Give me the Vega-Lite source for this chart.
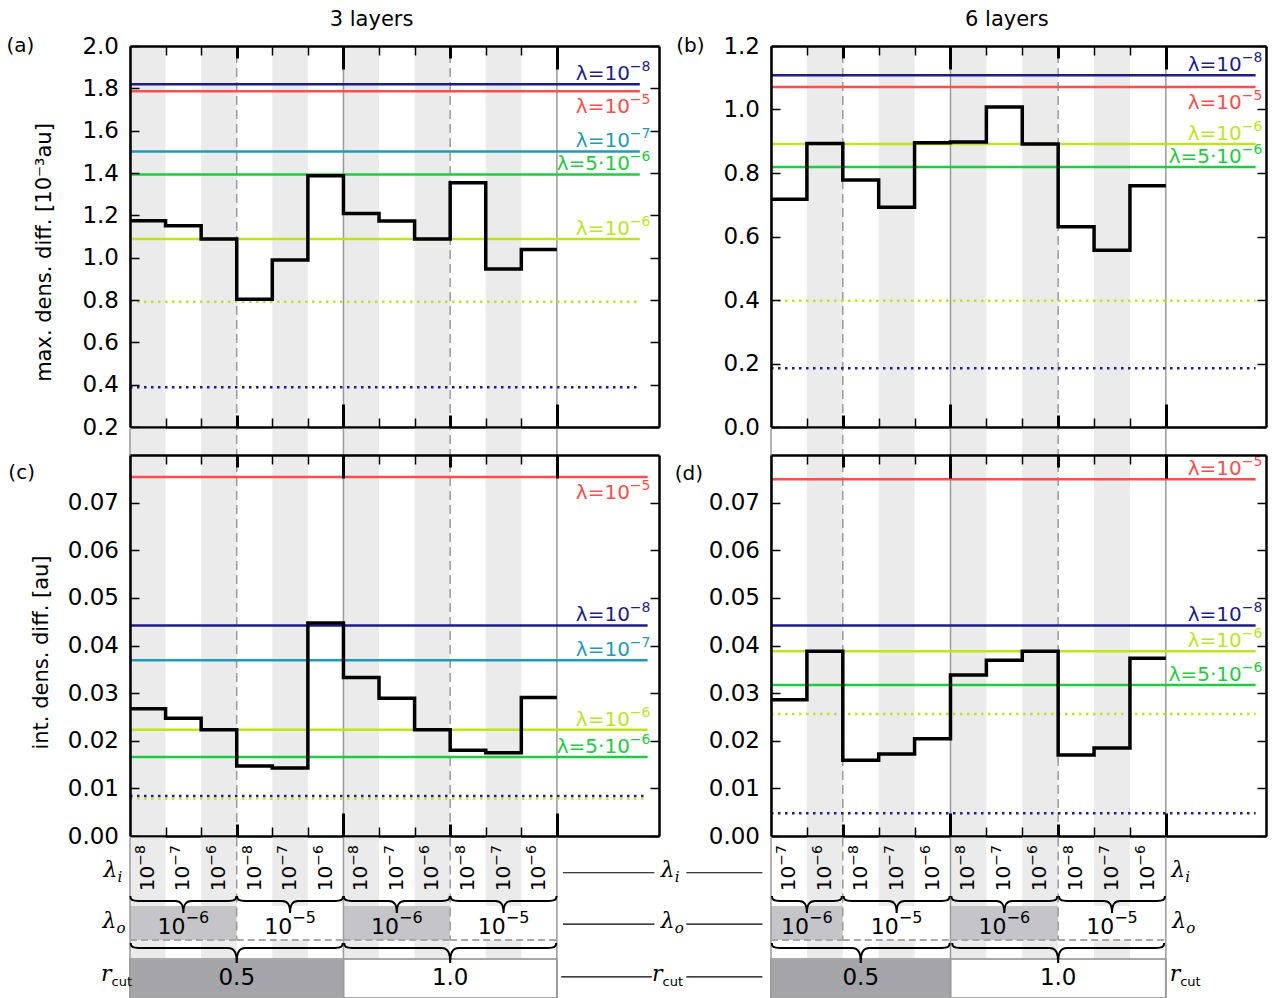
{
"$schema": "https://vega.github.io/schema/vega-lite/v6.json",
"background": "white",
"padding": {"left": 6, "top": 8, "right": 4, "bottom": 1},
"columns": 2,
"bounds": "flush",
"spacing": {"row": 28, "column": 112},
"config": {
  "view": {"stroke": null},
  "font": "DejaVu Sans",
  "axis": {"labelFont": "DejaVu Sans", "labelFontSize": 23, "labelColor": "black", "labelPadding": 20.5, "labelFlush": false, "labelOverlap": false,
           "domainColor": "black", "domainWidth": 2.5, "tickColor": "black", "tickWidth": 1.5, "tickSize": -9, "grid": false,
           "titleFont": "DejaVu Sans", "titleFontSize": 21, "titleFontWeight": "normal", "titleColor": "black"}
},
"datasets": {
  "bins": [
    {"L":"3","i":0,"x0":0,"x1":1,"xc":0.5,"li":"−8","maxd":1.175,"intd":0.0267},
    {"L":"3","i":1,"x0":1,"x1":2,"xc":1.5,"li":"−7","maxd":1.151,"intd":0.0247},
    {"L":"3","i":2,"x0":2,"x1":3,"xc":2.5,"li":"−6","maxd":1.088,"intd":0.0223},
    {"L":"3","i":3,"x0":3,"x1":4,"xc":3.5,"li":"−8","maxd":0.803,"intd":0.0147},
    {"L":"3","i":4,"x0":4,"x1":5,"xc":4.5,"li":"−7","maxd":0.989,"intd":0.0143},
    {"L":"3","i":5,"x0":5,"x1":6,"xc":5.5,"li":"−6","maxd":1.387,"intd":0.0447},
    {"L":"3","i":6,"x0":6,"x1":7,"xc":6.5,"li":"−8","maxd":1.209,"intd":0.0333},
    {"L":"3","i":7,"x0":7,"x1":8,"xc":7.5,"li":"−7","maxd":1.173,"intd":0.0289},
    {"L":"3","i":8,"x0":8,"x1":9,"xc":8.5,"li":"−6","maxd":1.088,"intd":0.0223},
    {"L":"3","i":9,"x0":9,"x1":10,"xc":9.5,"li":"−8","maxd":1.354,"intd":0.0180},
    {"L":"3","i":10,"x0":10,"x1":11,"xc":10.5,"li":"−7","maxd":0.946,"intd":0.0175},
    {"L":"3","i":11,"x0":11,"x1":12,"xc":11.5,"li":"−6","maxd":1.039,"intd":0.0291},
    {"L":"6","i":1,"x0":1,"x1":2,"xc":1.5,"li":"−7","maxd":0.717,"intd":0.0286},
    {"L":"6","i":2,"x0":2,"x1":3,"xc":2.5,"li":"−6","maxd":0.893,"intd":0.0388},
    {"L":"6","i":3,"x0":3,"x1":4,"xc":3.5,"li":"−8","maxd":0.778,"intd":0.0159},
    {"L":"6","i":4,"x0":4,"x1":5,"xc":4.5,"li":"−7","maxd":0.692,"intd":0.0172},
    {"L":"6","i":5,"x0":5,"x1":6,"xc":5.5,"li":"−6","maxd":0.895,"intd":0.0204},
    {"L":"6","i":6,"x0":6,"x1":7,"xc":6.5,"li":"−8","maxd":0.898,"intd":0.0338},
    {"L":"6","i":7,"x0":7,"x1":8,"xc":7.5,"li":"−7","maxd":1.008,"intd":0.0369},
    {"L":"6","i":8,"x0":8,"x1":9,"xc":8.5,"li":"−6","maxd":0.891,"intd":0.0388},
    {"L":"6","i":9,"x0":9,"x1":10,"xc":9.5,"li":"−8","maxd":0.631,"intd":0.0170},
    {"L":"6","i":10,"x0":10,"x1":11,"xc":10.5,"li":"−7","maxd":0.557,"intd":0.0185},
    {"L":"6","i":11,"x0":11,"x1":12,"xc":11.5,"li":"−6","maxd":0.760,"intd":0.0373}
  ],
  "hl": [
    {"L":"3","m":"max","lam":"1e-8","kind":"solid","v":1.819,"base":"λ=10","sup":"−8","side":"above"},
    {"L":"3","m":"max","lam":"1e-5","kind":"solid","v":1.786,"base":"λ=10","sup":"−5","side":"below"},
    {"L":"3","m":"max","lam":"1e-7","kind":"solid","v":1.502,"base":"λ=10","sup":"−7","side":"above"},
    {"L":"3","m":"max","lam":"5e-6","kind":"solid","v":1.393,"base":"λ=5·10","sup":"−6","side":"above"},
    {"L":"3","m":"max","lam":"1e-6","kind":"solid","v":1.088,"base":"λ=10","sup":"−6","side":"above"},
    {"L":"3","m":"max","lam":"1e-6","kind":"dotted","v":0.792,"base":"","sup":"","side":""},
    {"L":"3","m":"max","lam":"1e-8","kind":"dotted","v":0.388,"base":"","sup":"","side":""},
    {"L":"6","m":"max","lam":"1e-8","kind":"solid","v":1.108,"base":"λ=10","sup":"−8","side":"above"},
    {"L":"6","m":"max","lam":"1e-5","kind":"solid","v":1.071,"base":"λ=10","sup":"−5","side":"below"},
    {"L":"6","m":"max","lam":"1e-6","kind":"solid","v":0.891,"base":"λ=10","sup":"−6","side":"above"},
    {"L":"6","m":"max","lam":"5e-6","kind":"solid","v":0.819,"base":"λ=5·10","sup":"−6","side":"above"},
    {"L":"6","m":"max","lam":"1e-6","kind":"dotted","v":0.398,"base":"","sup":"","side":""},
    {"L":"6","m":"max","lam":"1e-8","kind":"dotted","v":0.185,"base":"","sup":"","side":""},
    {"L":"3","m":"int","lam":"1e-5","kind":"solid","v":0.0754,"base":"λ=10","sup":"−5","side":"below"},
    {"L":"3","m":"int","lam":"1e-8","kind":"solid","v":0.0442,"base":"λ=10","sup":"−8","side":"above"},
    {"L":"3","m":"int","lam":"1e-7","kind":"solid","v":0.0369,"base":"λ=10","sup":"−7","side":"above"},
    {"L":"3","m":"int","lam":"1e-6","kind":"solid","v":0.0223,"base":"λ=10","sup":"−6","side":"above"},
    {"L":"3","m":"int","lam":"5e-6","kind":"solid","v":0.0166,"base":"λ=5·10","sup":"−6","side":"above"},
    {"L":"3","m":"int","lam":"1e-8","kind":"dotted","v":0.0084,"base":"","sup":"","side":""},
    {"L":"3","m":"int","lam":"1e-6","kind":"dotted","v":0.0079,"base":"","sup":"","side":""},
    {"L":"6","m":"int","lam":"1e-5","kind":"solid","v":0.0749,"base":"λ=10","sup":"−5","side":"above"},
    {"L":"6","m":"int","lam":"1e-8","kind":"solid","v":0.0442,"base":"λ=10","sup":"−8","side":"above"},
    {"L":"6","m":"int","lam":"1e-6","kind":"solid","v":0.0388,"base":"λ=10","sup":"−6","side":"above"},
    {"L":"6","m":"int","lam":"5e-6","kind":"solid","v":0.0317,"base":"λ=5·10","sup":"−6","side":"above"},
    {"L":"6","m":"int","lam":"1e-6","kind":"dotted","v":0.0256,"base":"","sup":"","side":""},
    {"L":"6","m":"int","lam":"1e-8","kind":"dotted","v":0.0048,"base":"","sup":"","side":""}
  ],
  "seps": [
    {"L":"3","x":0,"st":"solid"},{"L":"3","x":3,"st":"dashed"},{"L":"3","x":6,"st":"solid"},{"L":"3","x":9,"st":"dashed"},{"L":"3","x":12,"st":"solid"},
    {"L":"6","x":1,"st":"solid"},{"L":"6","x":3,"st":"dashed"},{"L":"6","x":6,"st":"solid"},{"L":"6","x":9,"st":"dashed"},{"L":"6","x":12,"st":"solid"}
  ],
  "lo": [
    {"L":"3","x0":0,"x1":3,"xc":1.5,"lab":"1e-6","sup":"−6","span":"3"},
    {"L":"3","x0":3,"x1":6,"xc":4.5,"lab":"1e-5","sup":"−5","span":"3"},
    {"L":"3","x0":6,"x1":9,"xc":7.5,"lab":"1e-6","sup":"−6","span":"3"},
    {"L":"3","x0":9,"x1":12,"xc":10.5,"lab":"1e-5","sup":"−5","span":"3"},
    {"L":"6","x0":1,"x1":3,"xc":2,"lab":"1e-6","sup":"−6","span":"2"},
    {"L":"6","x0":3,"x1":6,"xc":4.5,"lab":"1e-5","sup":"−5","span":"3"},
    {"L":"6","x0":6,"x1":9,"xc":7.5,"lab":"1e-6","sup":"−6","span":"3"},
    {"L":"6","x0":9,"x1":12,"xc":10.5,"lab":"1e-5","sup":"−5","span":"3"}
  ],
  "rc": [
    {"L":"3","x0":0,"x1":6,"xc":3,"lab":"0.5","span":"6"},
    {"L":"3","x0":6,"x1":12,"xc":9,"lab":"1.0","span":"6"},
    {"L":"6","x0":1,"x1":6,"xc":3.5,"lab":"0.5","span":"5"},
    {"L":"6","x0":6,"x1":12,"xc":9,"lab":"1.0","span":"6"}
  ],
  "rl": [
    {"L":"3","x":-0.35,"y":0.227,"m":"λ","s":"i"},
    {"L":"3","x":-0.38,"y":0.544,"m":"λ","s":"o"},
    {"L":"3","x":-0.52,"y":0.869,"m":"r","s":"cut"},
    {"L":"3","x":15.31,"y":0.227,"m":"λ","s":"i"},
    {"L":"3","x":15.31,"y":0.544,"m":"λ","s":"o"},
    {"L":"3","x":14.97,"y":0.869,"m":"r","s":"cut"},
    {"L":"6","x":12.54,"y":0.227,"m":"λ","s":"i"},
    {"L":"6","x":12.57,"y":0.544,"m":"λ","s":"o"},
    {"L":"6","x":12.40,"y":0.869,"m":"r","s":"cut"}
  ],
  "cl": [
    {"L":"3","y":0.227,"x0":12.17,"x1":14.74},
    {"L":"3","y":0.544,"x0":12.17,"x1":14.74},
    {"L":"3","y":0.869,"x0":12.12,"x1":14.67},
    {"L":"6","y":0.227,"x0":-1.36,"x1":0.76},
    {"L":"6","y":0.544,"x0":-1.36,"x1":0.76},
    {"L":"6","y":0.869,"x0":-1.36,"x1":0.76}
  ]
},
"concat": [
 {
  "width": 529, "height": 381,
  "resolve": {"axis": {"x": "independent", "y": "independent"}},
  "layer": [
   {"data": {"name": "bins"}, "transform": [{"filter": "datum.L == '3' && datum.i % 2 == 0"}],
    "mark": {"type": "rect", "color": "#ebebeb"},
    "encoding": {"x": {"field": "x0", "type": "quantitative", "scale": {"domain": [0, 14.87], "nice": false, "zero": false}, "axis": null}, "x2": {"field": "x1"},
                 "y": {"datum": 0.2, "type": "quantitative", "scale": {"domain": [0.2, 2.0], "nice": false, "zero": false}, "axis": null}, "y2": {"datum": 2.0}}},
   {"data": {"name": "seps"}, "transform": [{"filter": "datum.L == '3' && datum.st == 'solid'"}],
    "mark": {"type": "rule", "color": "#9a9a9a", "strokeWidth": 1.5},
    "encoding": {"x": {"field": "x", "type": "quantitative", "scale": {"domain": [0, 14.87], "nice": false, "zero": false}, "axis": null},
                 "y": {"datum": 0.2, "type": "quantitative", "scale": {"domain": [0.2, 2.0], "nice": false, "zero": false}, "axis": null}, "y2": {"datum": 2.0}}},
   {"data": {"name": "seps"}, "transform": [{"filter": "datum.L == '3' && datum.st == 'dashed'"}],
    "mark": {"type": "rule", "color": "#9a9a9a", "strokeWidth": 1.5, "strokeDash": [9, 5]},
    "encoding": {"x": {"field": "x", "type": "quantitative", "scale": {"domain": [0, 14.87], "nice": false, "zero": false}, "axis": null},
                 "y": {"datum": 0.2, "type": "quantitative", "scale": {"domain": [0.2, 2.0], "nice": false, "zero": false}, "axis": null}, "y2": {"datum": 2.0}}},
   {"data": {"name": "hl"}, "transform": [{"filter": "datum.L == '3' && datum.m == 'max' && datum.kind == 'solid'"}],
    "mark": {"type": "rule", "strokeWidth": 2.5},
    "encoding": {"x": {"datum": 0, "type": "quantitative", "scale": {"domain": [0, 14.87], "nice": false, "zero": false},
                       "axis": {"orient": "top", "zindex": 2, "values": [1,2,3,4,5,6,7,8,9,10,11,12], "labels": false, "title": null,
                                "tickSize": {"condition": [{"test": "datum.value == 6 || datum.value == 12", "value": -23}, {"test": "datum.value == 3 || datum.value == 9", "value": -12}], "value": -9},
                                "tickWidth": {"condition": {"test": "datum.value == 3 || datum.value == 6 || datum.value == 9 || datum.value == 12", "value": 3}, "value": 1.5}}},
                 "x2": {"datum": 14.33},
                 "y": {"field": "v", "type": "quantitative", "scale": {"domain": [0.2, 2.0], "nice": false, "zero": false},
                       "axis": {"orient": "right", "zindex": 2, "values": [0.2,0.4,0.6,0.8,1.0,1.2,1.4,1.6,1.8,2.0], "labels": false, "title": null}},
                 "color": {"field": "lam", "type": "nominal", "scale": {"domain": ["1e-8","1e-7","1e-6","5e-6","1e-5"], "range": ["#1c1c8c","#1e9bb8","#bee41c","#1fcc40","#ff4c4c"]}, "legend": null}}},
   {"data": {"name": "hl"}, "transform": [{"filter": "datum.L == '3' && datum.m == 'max' && datum.kind == 'dotted'"}],
    "mark": {"type": "rule", "strokeWidth": 2.5, "strokeDash": [2.5, 4.5]},
    "encoding": {"x": {"datum": 0, "type": "quantitative", "scale": {"domain": [0, 14.87], "nice": false, "zero": false}, "axis": null}, "x2": {"datum": 14.25},
                 "y": {"field": "v", "type": "quantitative", "scale": {"domain": [0.2, 2.0], "nice": false, "zero": false}, "axis": null},
                 "color": {"field": "lam", "type": "nominal", "scale": {"domain": ["1e-8","1e-7","1e-6","5e-6","1e-5"], "range": ["#1c1c8c","#1e9bb8","#bee41c","#1fcc40","#ff4c4c"]}, "legend": null}}},
   {"data": {"name": "hl"}, "transform": [{"filter": "datum.L == '3' && datum.m == 'max' && datum.side == 'above'"}],
    "mark": {"type": "text", "align": "right", "baseline": "alphabetic", "dx": -20.6, "dy": -4, "fontSize": 20},
    "encoding": {"x": {"datum": 14.63, "type": "quantitative", "scale": {"domain": [0, 14.87], "nice": false, "zero": false}, "axis": null},
                 "y": {"field": "v", "type": "quantitative", "scale": {"domain": [0.2, 2.0], "nice": false, "zero": false}, "axis": null},
                 "text": {"field": "base"},
                 "color": {"field": "lam", "type": "nominal", "scale": {"domain": ["1e-8","1e-7","1e-6","5e-6","1e-5"], "range": ["#1c1c8c","#1e9bb8","#bee41c","#1fcc40","#ff4c4c"]}, "legend": null}}},
   {"data": {"name": "hl"}, "transform": [{"filter": "datum.L == '3' && datum.m == 'max' && datum.side == 'above'"}],
    "mark": {"type": "text", "align": "right", "baseline": "alphabetic", "dy": -13, "fontSize": 14},
    "encoding": {"x": {"datum": 14.63, "type": "quantitative", "scale": {"domain": [0, 14.87], "nice": false, "zero": false}, "axis": null},
                 "y": {"field": "v", "type": "quantitative", "scale": {"domain": [0.2, 2.0], "nice": false, "zero": false}, "axis": null},
                 "text": {"field": "sup"},
                 "color": {"field": "lam", "type": "nominal", "scale": {"domain": ["1e-8","1e-7","1e-6","5e-6","1e-5"], "range": ["#1c1c8c","#1e9bb8","#bee41c","#1fcc40","#ff4c4c"]}, "legend": null}}},
   {"data": {"name": "hl"}, "transform": [{"filter": "datum.L == '3' && datum.m == 'max' && datum.side == 'below'"}],
    "mark": {"type": "text", "align": "right", "baseline": "alphabetic", "dx": -20.6, "dy": 22, "fontSize": 20},
    "encoding": {"x": {"datum": 14.63, "type": "quantitative", "scale": {"domain": [0, 14.87], "nice": false, "zero": false}, "axis": null},
                 "y": {"field": "v", "type": "quantitative", "scale": {"domain": [0.2, 2.0], "nice": false, "zero": false}, "axis": null},
                 "text": {"field": "base"},
                 "color": {"field": "lam", "type": "nominal", "scale": {"domain": ["1e-8","1e-7","1e-6","5e-6","1e-5"], "range": ["#1c1c8c","#1e9bb8","#bee41c","#1fcc40","#ff4c4c"]}, "legend": null}}},
   {"data": {"name": "hl"}, "transform": [{"filter": "datum.L == '3' && datum.m == 'max' && datum.side == 'below'"}],
    "mark": {"type": "text", "align": "right", "baseline": "alphabetic", "dy": 13, "fontSize": 14},
    "encoding": {"x": {"datum": 14.63, "type": "quantitative", "scale": {"domain": [0, 14.87], "nice": false, "zero": false}, "axis": null},
                 "y": {"field": "v", "type": "quantitative", "scale": {"domain": [0.2, 2.0], "nice": false, "zero": false}, "axis": null},
                 "text": {"field": "sup"},
                 "color": {"field": "lam", "type": "nominal", "scale": {"domain": ["1e-8","1e-7","1e-6","5e-6","1e-5"], "range": ["#1c1c8c","#1e9bb8","#bee41c","#1fcc40","#ff4c4c"]}, "legend": null}}},
   {"data": {"name": "bins"}, "transform": [{"filter": "datum.L == '3'"}, {"fold": ["x0", "x1"], "as": ["k", "xx"]}],
    "mark": {"type": "line", "color": "black", "strokeWidth": 3.5},
    "encoding": {"x": {"field": "xx", "type": "quantitative", "scale": {"domain": [0, 14.87], "nice": false, "zero": false},
                       "axis": {"orient": "bottom", "zindex": 2, "values": [1,2,3,4,5,6,7,8,9,10,11,12], "labels": false, "title": null,
                                "tickSize": {"condition": [{"test": "datum.value == 6 || datum.value == 12", "value": -23}, {"test": "datum.value == 3 || datum.value == 9", "value": -12}], "value": -9},
                                "tickWidth": {"condition": {"test": "datum.value == 3 || datum.value == 6 || datum.value == 9 || datum.value == 12", "value": 3}, "value": 1.5}}},
                 "y": {"field": "maxd", "type": "quantitative", "scale": {"domain": [0.2, 2.0], "nice": false, "zero": false},
                       "axis": {"orient": "left", "zindex": 2, "values": [0.2,0.4,0.6,0.8,1.0,1.2,1.4,1.6,1.8,2.0], "format": ".1f", "title": "max. dens. diff. [10⁻³au]", "titlePadding": 27, "titleY": 206}},
                 "order": [{"field": "i", "type": "quantitative"}, {"field": "xx", "type": "quantitative"}]}},
   {"data": {"values": [{"t": "(a)"}]},
    "mark": {"type": "text", "align": "left", "baseline": "middle", "fontSize": 20, "clip": false},
    "encoding": {"x": {"datum": -3.47, "type": "quantitative", "scale": {"domain": [0, 14.87], "nice": false, "zero": false}, "axis": null},
                 "y": {"datum": 2.0, "type": "quantitative", "scale": {"domain": [0.2, 2.0], "nice": false, "zero": false}, "axis": null},
                 "text": {"field": "t"}}},
   {"data": {"values": [{"t": "3 layers"}]},
    "mark": {"type": "text", "align": "center", "baseline": "alphabetic", "fontSize": 21, "clip": false},
    "encoding": {"x": {"datum": 6.79, "type": "quantitative", "scale": {"domain": [0, 14.87], "nice": false, "zero": false}, "axis": null},
                 "y": {"datum": 2.0945, "type": "quantitative", "scale": {"domain": [0.2, 2.0], "nice": false, "zero": false}, "axis": null},
                 "text": {"field": "t"}}}
  ]
 },
 {
  "width": 495, "height": 381,
  "resolve": {"axis": {"x": "independent", "y": "independent"}},
  "layer": [
   {"data": {"name": "bins"}, "transform": [{"filter": "datum.L == '6' && datum.i % 2 == 0"}],
    "mark": {"type": "rect", "color": "#ebebeb"},
    "encoding": {"x": {"field": "x0", "type": "quantitative", "scale": {"domain": [1, 14.79], "nice": false, "zero": false}, "axis": null}, "x2": {"field": "x1"},
                 "y": {"datum": 0, "type": "quantitative", "scale": {"domain": [0, 1.2], "nice": false, "zero": false}, "axis": null}, "y2": {"datum": 1.2}}},
   {"data": {"name": "seps"}, "transform": [{"filter": "datum.L == '6' && datum.st == 'solid'"}],
    "mark": {"type": "rule", "color": "#9a9a9a", "strokeWidth": 1.5},
    "encoding": {"x": {"field": "x", "type": "quantitative", "scale": {"domain": [1, 14.79], "nice": false, "zero": false}, "axis": null},
                 "y": {"datum": 0, "type": "quantitative", "scale": {"domain": [0, 1.2], "nice": false, "zero": false}, "axis": null}, "y2": {"datum": 1.2}}},
   {"data": {"name": "seps"}, "transform": [{"filter": "datum.L == '6' && datum.st == 'dashed'"}],
    "mark": {"type": "rule", "color": "#9a9a9a", "strokeWidth": 1.5, "strokeDash": [9, 5]},
    "encoding": {"x": {"field": "x", "type": "quantitative", "scale": {"domain": [1, 14.79], "nice": false, "zero": false}, "axis": null},
                 "y": {"datum": 0, "type": "quantitative", "scale": {"domain": [0, 1.2], "nice": false, "zero": false}, "axis": null}, "y2": {"datum": 1.2}}},
   {"data": {"name": "hl"}, "transform": [{"filter": "datum.L == '6' && datum.m == 'max' && datum.kind == 'solid'"}],
    "mark": {"type": "rule", "strokeWidth": 2.5},
    "encoding": {"x": {"datum": 1, "type": "quantitative", "scale": {"domain": [1, 14.79], "nice": false, "zero": false},
                       "axis": {"orient": "top", "zindex": 2, "values": [2,3,4,5,6,7,8,9,10,11,12], "labels": false, "title": null,
                                "tickSize": {"condition": [{"test": "datum.value == 6 || datum.value == 12", "value": -23}, {"test": "datum.value == 3 || datum.value == 9", "value": -12}], "value": -9},
                                "tickWidth": {"condition": {"test": "datum.value == 3 || datum.value == 6 || datum.value == 9 || datum.value == 12", "value": 3}, "value": 1.5}}},
                 "x2": {"datum": 14.5},
                 "y": {"field": "v", "type": "quantitative", "scale": {"domain": [0, 1.2], "nice": false, "zero": false},
                       "axis": {"orient": "right", "zindex": 2, "values": [0,0.2,0.4,0.6,0.8,1.0,1.2], "labels": false, "title": null}},
                 "color": {"field": "lam", "type": "nominal", "scale": {"domain": ["1e-8","1e-7","1e-6","5e-6","1e-5"], "range": ["#1c1c8c","#1e9bb8","#bee41c","#1fcc40","#ff4c4c"]}, "legend": null}}},
   {"data": {"name": "hl"}, "transform": [{"filter": "datum.L == '6' && datum.m == 'max' && datum.kind == 'dotted'"}],
    "mark": {"type": "rule", "strokeWidth": 2.5, "strokeDash": [2.5, 4.5]},
    "encoding": {"x": {"datum": 1, "type": "quantitative", "scale": {"domain": [1, 14.79], "nice": false, "zero": false}, "axis": null}, "x2": {"datum": 14.5},
                 "y": {"field": "v", "type": "quantitative", "scale": {"domain": [0, 1.2], "nice": false, "zero": false}, "axis": null},
                 "color": {"field": "lam", "type": "nominal", "scale": {"domain": ["1e-8","1e-7","1e-6","5e-6","1e-5"], "range": ["#1c1c8c","#1e9bb8","#bee41c","#1fcc40","#ff4c4c"]}, "legend": null}}},
   {"data": {"name": "hl"}, "transform": [{"filter": "datum.L == '6' && datum.m == 'max' && datum.side == 'above'"}],
    "mark": {"type": "text", "align": "right", "baseline": "alphabetic", "dx": -20.6, "dy": -4, "fontSize": 20},
    "encoding": {"x": {"datum": 14.69, "type": "quantitative", "scale": {"domain": [1, 14.79], "nice": false, "zero": false}, "axis": null},
                 "y": {"field": "v", "type": "quantitative", "scale": {"domain": [0, 1.2], "nice": false, "zero": false}, "axis": null},
                 "text": {"field": "base"},
                 "color": {"field": "lam", "type": "nominal", "scale": {"domain": ["1e-8","1e-7","1e-6","5e-6","1e-5"], "range": ["#1c1c8c","#1e9bb8","#bee41c","#1fcc40","#ff4c4c"]}, "legend": null}}},
   {"data": {"name": "hl"}, "transform": [{"filter": "datum.L == '6' && datum.m == 'max' && datum.side == 'above'"}],
    "mark": {"type": "text", "align": "right", "baseline": "alphabetic", "dy": -13, "fontSize": 14},
    "encoding": {"x": {"datum": 14.69, "type": "quantitative", "scale": {"domain": [1, 14.79], "nice": false, "zero": false}, "axis": null},
                 "y": {"field": "v", "type": "quantitative", "scale": {"domain": [0, 1.2], "nice": false, "zero": false}, "axis": null},
                 "text": {"field": "sup"},
                 "color": {"field": "lam", "type": "nominal", "scale": {"domain": ["1e-8","1e-7","1e-6","5e-6","1e-5"], "range": ["#1c1c8c","#1e9bb8","#bee41c","#1fcc40","#ff4c4c"]}, "legend": null}}},
   {"data": {"name": "hl"}, "transform": [{"filter": "datum.L == '6' && datum.m == 'max' && datum.side == 'below'"}],
    "mark": {"type": "text", "align": "right", "baseline": "alphabetic", "dx": -20.6, "dy": 22, "fontSize": 20},
    "encoding": {"x": {"datum": 14.69, "type": "quantitative", "scale": {"domain": [1, 14.79], "nice": false, "zero": false}, "axis": null},
                 "y": {"field": "v", "type": "quantitative", "scale": {"domain": [0, 1.2], "nice": false, "zero": false}, "axis": null},
                 "text": {"field": "base"},
                 "color": {"field": "lam", "type": "nominal", "scale": {"domain": ["1e-8","1e-7","1e-6","5e-6","1e-5"], "range": ["#1c1c8c","#1e9bb8","#bee41c","#1fcc40","#ff4c4c"]}, "legend": null}}},
   {"data": {"name": "hl"}, "transform": [{"filter": "datum.L == '6' && datum.m == 'max' && datum.side == 'below'"}],
    "mark": {"type": "text", "align": "right", "baseline": "alphabetic", "dy": 13, "fontSize": 14},
    "encoding": {"x": {"datum": 14.69, "type": "quantitative", "scale": {"domain": [1, 14.79], "nice": false, "zero": false}, "axis": null},
                 "y": {"field": "v", "type": "quantitative", "scale": {"domain": [0, 1.2], "nice": false, "zero": false}, "axis": null},
                 "text": {"field": "sup"},
                 "color": {"field": "lam", "type": "nominal", "scale": {"domain": ["1e-8","1e-7","1e-6","5e-6","1e-5"], "range": ["#1c1c8c","#1e9bb8","#bee41c","#1fcc40","#ff4c4c"]}, "legend": null}}},
   {"data": {"name": "bins"}, "transform": [{"filter": "datum.L == '6'"}, {"fold": ["x0", "x1"], "as": ["k", "xx"]}],
    "mark": {"type": "line", "color": "black", "strokeWidth": 3.5},
    "encoding": {"x": {"field": "xx", "type": "quantitative", "scale": {"domain": [1, 14.79], "nice": false, "zero": false},
                       "axis": {"orient": "bottom", "zindex": 2, "values": [2,3,4,5,6,7,8,9,10,11,12], "labels": false, "title": null,
                                "tickSize": {"condition": [{"test": "datum.value == 6 || datum.value == 12", "value": -23}, {"test": "datum.value == 3 || datum.value == 9", "value": -12}], "value": -9},
                                "tickWidth": {"condition": {"test": "datum.value == 3 || datum.value == 6 || datum.value == 9 || datum.value == 12", "value": 3}, "value": 1.5}}},
                 "y": {"field": "maxd", "type": "quantitative", "scale": {"domain": [0, 1.2], "nice": false, "zero": false},
                       "axis": {"orient": "left", "zindex": 2, "values": [0,0.2,0.4,0.6,0.8,1.0,1.2], "format": ".1f", "title": null}},
                 "order": [{"field": "i", "type": "quantitative"}, {"field": "xx", "type": "quantitative"}]}},
   {"data": {"values": [{"t": "(b)"}]},
    "mark": {"type": "text", "align": "left", "baseline": "middle", "fontSize": 20, "clip": false},
    "encoding": {"x": {"datum": -1.64, "type": "quantitative", "scale": {"domain": [1, 14.79], "nice": false, "zero": false}, "axis": null},
                 "y": {"datum": 1.2, "type": "quantitative", "scale": {"domain": [0, 1.2], "nice": false, "zero": false}, "axis": null},
                 "text": {"field": "t"}}},
   {"data": {"values": [{"t": "6 layers"}]},
    "mark": {"type": "text", "align": "center", "baseline": "alphabetic", "fontSize": 21, "clip": false},
    "encoding": {"x": {"datum": 7.57, "type": "quantitative", "scale": {"domain": [1, 14.79], "nice": false, "zero": false}, "axis": null},
                 "y": {"datum": 1.263, "type": "quantitative", "scale": {"domain": [0, 1.2], "nice": false, "zero": false}, "axis": null},
                 "text": {"field": "t"}}}
  ]
 },
 {
  "width": 529, "height": 381,
  "resolve": {"axis": {"x": "independent", "y": "independent"}},
  "layer": [
   {"data": {"name": "bins"}, "transform": [{"filter": "datum.L == '3' && datum.i % 2 == 0"}],
    "mark": {"type": "rect", "color": "#ebebeb", "clip": false},
    "encoding": {"x": {"field": "x0", "type": "quantitative", "scale": {"domain": [0, 14.87], "nice": false, "zero": false}, "axis": null}, "x2": {"field": "x1"},
                 "y": {"datum": 0, "type": "quantitative", "scale": {"domain": [0, 0.08], "nice": false, "zero": false}, "axis": null}, "y2": {"datum": 0.08552}}},
   {"data": {"name": "seps"}, "transform": [{"filter": "datum.L == '3' && datum.st == 'solid'"}],
    "mark": {"type": "rule", "color": "#9a9a9a", "strokeWidth": 1.5, "clip": false},
    "encoding": {"x": {"field": "x", "type": "quantitative", "scale": {"domain": [0, 14.87], "nice": false, "zero": false}, "axis": null},
                 "y": {"datum": 0, "type": "quantitative", "scale": {"domain": [0, 0.08], "nice": false, "zero": false}, "axis": null}, "y2": {"datum": 0.08552}}},
   {"data": {"name": "seps"}, "transform": [{"filter": "datum.L == '3' && datum.st == 'dashed'"}],
    "mark": {"type": "rule", "color": "#9a9a9a", "strokeWidth": 1.5, "strokeDash": [9, 5], "clip": false},
    "encoding": {"x": {"field": "x", "type": "quantitative", "scale": {"domain": [0, 14.87], "nice": false, "zero": false}, "axis": null},
                 "y": {"datum": 0, "type": "quantitative", "scale": {"domain": [0, 0.08], "nice": false, "zero": false}, "axis": null}, "y2": {"datum": 0.08552}}},
   {"data": {"name": "hl"}, "transform": [{"filter": "datum.L == '3' && datum.m == 'int' && datum.kind == 'solid'"}],
    "mark": {"type": "rule", "strokeWidth": 2.5},
    "encoding": {"x": {"datum": 0, "type": "quantitative", "scale": {"domain": [0, 14.87], "nice": false, "zero": false},
                       "axis": {"orient": "top", "zindex": 2, "values": [1,2,3,4,5,6,7,8,9,10,11,12], "labels": false, "title": null,
                                "tickSize": {"condition": [{"test": "datum.value == 6 || datum.value == 12", "value": -23}, {"test": "datum.value == 3 || datum.value == 9", "value": -12}], "value": -9},
                                "tickWidth": {"condition": {"test": "datum.value == 3 || datum.value == 6 || datum.value == 9 || datum.value == 12", "value": 3}, "value": 1.5}}},
                 "x2": {"datum": 14.55},
                 "y": {"field": "v", "type": "quantitative", "scale": {"domain": [0, 0.08], "nice": false, "zero": false},
                       "axis": {"orient": "right", "zindex": 2, "values": [0,0.01,0.02,0.03,0.04,0.05,0.06,0.07], "labels": false, "title": null}},
                 "color": {"field": "lam", "type": "nominal", "scale": {"domain": ["1e-8","1e-7","1e-6","5e-6","1e-5"], "range": ["#1c1c8c","#1e9bb8","#bee41c","#1fcc40","#ff4c4c"]}, "legend": null}}},
   {"data": {"name": "hl"}, "transform": [{"filter": "datum.L == '3' && datum.m == 'int' && datum.kind == 'dotted'"}],
    "mark": {"type": "rule", "strokeWidth": 2.5, "strokeDash": [2.5, 4.5]},
    "encoding": {"x": {"datum": 0, "type": "quantitative", "scale": {"domain": [0, 14.87], "nice": false, "zero": false}, "axis": null}, "x2": {"datum": 14.55},
                 "y": {"field": "v", "type": "quantitative", "scale": {"domain": [0, 0.08], "nice": false, "zero": false}, "axis": null},
                 "color": {"field": "lam", "type": "nominal", "scale": {"domain": ["1e-8","1e-7","1e-6","5e-6","1e-5"], "range": ["#1c1c8c","#1e9bb8","#bee41c","#1fcc40","#ff4c4c"]}, "legend": null}}},
   {"data": {"name": "hl"}, "transform": [{"filter": "datum.L == '3' && datum.m == 'int' && datum.side == 'above'"}],
    "mark": {"type": "text", "align": "right", "baseline": "alphabetic", "dx": -20.6, "dy": -4, "fontSize": 20},
    "encoding": {"x": {"datum": 14.63, "type": "quantitative", "scale": {"domain": [0, 14.87], "nice": false, "zero": false}, "axis": null},
                 "y": {"field": "v", "type": "quantitative", "scale": {"domain": [0, 0.08], "nice": false, "zero": false}, "axis": null},
                 "text": {"field": "base"},
                 "color": {"field": "lam", "type": "nominal", "scale": {"domain": ["1e-8","1e-7","1e-6","5e-6","1e-5"], "range": ["#1c1c8c","#1e9bb8","#bee41c","#1fcc40","#ff4c4c"]}, "legend": null}}},
   {"data": {"name": "hl"}, "transform": [{"filter": "datum.L == '3' && datum.m == 'int' && datum.side == 'above'"}],
    "mark": {"type": "text", "align": "right", "baseline": "alphabetic", "dy": -13, "fontSize": 14},
    "encoding": {"x": {"datum": 14.63, "type": "quantitative", "scale": {"domain": [0, 14.87], "nice": false, "zero": false}, "axis": null},
                 "y": {"field": "v", "type": "quantitative", "scale": {"domain": [0, 0.08], "nice": false, "zero": false}, "axis": null},
                 "text": {"field": "sup"},
                 "color": {"field": "lam", "type": "nominal", "scale": {"domain": ["1e-8","1e-7","1e-6","5e-6","1e-5"], "range": ["#1c1c8c","#1e9bb8","#bee41c","#1fcc40","#ff4c4c"]}, "legend": null}}},
   {"data": {"name": "hl"}, "transform": [{"filter": "datum.L == '3' && datum.m == 'int' && datum.side == 'below'"}],
    "mark": {"type": "text", "align": "right", "baseline": "alphabetic", "dx": -20.6, "dy": 22, "fontSize": 20},
    "encoding": {"x": {"datum": 14.63, "type": "quantitative", "scale": {"domain": [0, 14.87], "nice": false, "zero": false}, "axis": null},
                 "y": {"field": "v", "type": "quantitative", "scale": {"domain": [0, 0.08], "nice": false, "zero": false}, "axis": null},
                 "text": {"field": "base"},
                 "color": {"field": "lam", "type": "nominal", "scale": {"domain": ["1e-8","1e-7","1e-6","5e-6","1e-5"], "range": ["#1c1c8c","#1e9bb8","#bee41c","#1fcc40","#ff4c4c"]}, "legend": null}}},
   {"data": {"name": "hl"}, "transform": [{"filter": "datum.L == '3' && datum.m == 'int' && datum.side == 'below'"}],
    "mark": {"type": "text", "align": "right", "baseline": "alphabetic", "dy": 13, "fontSize": 14},
    "encoding": {"x": {"datum": 14.63, "type": "quantitative", "scale": {"domain": [0, 14.87], "nice": false, "zero": false}, "axis": null},
                 "y": {"field": "v", "type": "quantitative", "scale": {"domain": [0, 0.08], "nice": false, "zero": false}, "axis": null},
                 "text": {"field": "sup"},
                 "color": {"field": "lam", "type": "nominal", "scale": {"domain": ["1e-8","1e-7","1e-6","5e-6","1e-5"], "range": ["#1c1c8c","#1e9bb8","#bee41c","#1fcc40","#ff4c4c"]}, "legend": null}}},
   {"data": {"name": "bins"}, "transform": [{"filter": "datum.L == '3'"}, {"fold": ["x0", "x1"], "as": ["k", "xx"]}],
    "mark": {"type": "line", "color": "black", "strokeWidth": 3.5},
    "encoding": {"x": {"field": "xx", "type": "quantitative", "scale": {"domain": [0, 14.87], "nice": false, "zero": false},
                       "axis": {"orient": "bottom", "zindex": 2, "values": [1,2,3,4,5,6,7,8,9,10,11,12], "labels": false, "title": null,
                                "tickSize": {"condition": [{"test": "datum.value == 6 || datum.value == 12", "value": -23}, {"test": "datum.value == 3 || datum.value == 9", "value": -12}], "value": -9},
                                "tickWidth": {"condition": {"test": "datum.value == 3 || datum.value == 6 || datum.value == 9 || datum.value == 12", "value": 3}, "value": 1.5}}},
                 "y": {"field": "intd", "type": "quantitative", "scale": {"domain": [0, 0.08], "nice": false, "zero": false},
                       "axis": {"orient": "left", "zindex": 2, "values": [0,0.01,0.02,0.03,0.04,0.05,0.06,0.07], "format": ".2f", "title": "int. dens. diff. [au]", "titlePadding": 16, "titleY": 197}},
                 "order": [{"field": "i", "type": "quantitative"}, {"field": "xx", "type": "quantitative"}]}},
   {"data": {"values": [{"t": "(c)"}]},
    "mark": {"type": "text", "align": "left", "baseline": "middle", "fontSize": 20, "clip": false},
    "encoding": {"x": {"datum": -3.42, "type": "quantitative", "scale": {"domain": [0, 14.87], "nice": false, "zero": false}, "axis": null},
                 "y": {"datum": 0.0763, "type": "quantitative", "scale": {"domain": [0, 0.08], "nice": false, "zero": false}, "axis": null},
                 "text": {"field": "t"}}}
  ]
 },
 {
  "width": 495, "height": 381,
  "resolve": {"axis": {"x": "independent", "y": "independent"}},
  "layer": [
   {"data": {"name": "bins"}, "transform": [{"filter": "datum.L == '6' && datum.i % 2 == 0"}],
    "mark": {"type": "rect", "color": "#ebebeb", "clip": false},
    "encoding": {"x": {"field": "x0", "type": "quantitative", "scale": {"domain": [1, 14.79], "nice": false, "zero": false}, "axis": null}, "x2": {"field": "x1"},
                 "y": {"datum": 0, "type": "quantitative", "scale": {"domain": [0, 0.08], "nice": false, "zero": false}, "axis": null}, "y2": {"datum": 0.08552}}},
   {"data": {"name": "seps"}, "transform": [{"filter": "datum.L == '6' && datum.st == 'solid'"}],
    "mark": {"type": "rule", "color": "#9a9a9a", "strokeWidth": 1.5, "clip": false},
    "encoding": {"x": {"field": "x", "type": "quantitative", "scale": {"domain": [1, 14.79], "nice": false, "zero": false}, "axis": null},
                 "y": {"datum": 0, "type": "quantitative", "scale": {"domain": [0, 0.08], "nice": false, "zero": false}, "axis": null}, "y2": {"datum": 0.08552}}},
   {"data": {"name": "seps"}, "transform": [{"filter": "datum.L == '6' && datum.st == 'dashed'"}],
    "mark": {"type": "rule", "color": "#9a9a9a", "strokeWidth": 1.5, "strokeDash": [9, 5], "clip": false},
    "encoding": {"x": {"field": "x", "type": "quantitative", "scale": {"domain": [1, 14.79], "nice": false, "zero": false}, "axis": null},
                 "y": {"datum": 0, "type": "quantitative", "scale": {"domain": [0, 0.08], "nice": false, "zero": false}, "axis": null}, "y2": {"datum": 0.08552}}},
   {"data": {"name": "hl"}, "transform": [{"filter": "datum.L == '6' && datum.m == 'int' && datum.kind == 'solid'"}],
    "mark": {"type": "rule", "strokeWidth": 2.5},
    "encoding": {"x": {"datum": 1, "type": "quantitative", "scale": {"domain": [1, 14.79], "nice": false, "zero": false},
                       "axis": {"orient": "top", "zindex": 2, "values": [2,3,4,5,6,7,8,9,10,11,12], "labels": false, "title": null,
                                "tickSize": {"condition": [{"test": "datum.value == 6 || datum.value == 12", "value": -23}, {"test": "datum.value == 3 || datum.value == 9", "value": -12}], "value": -9},
                                "tickWidth": {"condition": {"test": "datum.value == 3 || datum.value == 6 || datum.value == 9 || datum.value == 12", "value": 3}, "value": 1.5}}},
                 "x2": {"datum": 14.5},
                 "y": {"field": "v", "type": "quantitative", "scale": {"domain": [0, 0.08], "nice": false, "zero": false},
                       "axis": {"orient": "right", "zindex": 2, "values": [0,0.01,0.02,0.03,0.04,0.05,0.06,0.07], "labels": false, "title": null}},
                 "color": {"field": "lam", "type": "nominal", "scale": {"domain": ["1e-8","1e-7","1e-6","5e-6","1e-5"], "range": ["#1c1c8c","#1e9bb8","#bee41c","#1fcc40","#ff4c4c"]}, "legend": null}}},
   {"data": {"name": "hl"}, "transform": [{"filter": "datum.L == '6' && datum.m == 'int' && datum.kind == 'dotted'"}],
    "mark": {"type": "rule", "strokeWidth": 2.5, "strokeDash": [2.5, 4.5]},
    "encoding": {"x": {"datum": 1, "type": "quantitative", "scale": {"domain": [1, 14.79], "nice": false, "zero": false}, "axis": null}, "x2": {"datum": 14.5},
                 "y": {"field": "v", "type": "quantitative", "scale": {"domain": [0, 0.08], "nice": false, "zero": false}, "axis": null},
                 "color": {"field": "lam", "type": "nominal", "scale": {"domain": ["1e-8","1e-7","1e-6","5e-6","1e-5"], "range": ["#1c1c8c","#1e9bb8","#bee41c","#1fcc40","#ff4c4c"]}, "legend": null}}},
   {"data": {"name": "hl"}, "transform": [{"filter": "datum.L == '6' && datum.m == 'int' && datum.side == 'above'"}],
    "mark": {"type": "text", "align": "right", "baseline": "alphabetic", "dx": -20.6, "dy": -4, "fontSize": 20},
    "encoding": {"x": {"datum": 14.69, "type": "quantitative", "scale": {"domain": [1, 14.79], "nice": false, "zero": false}, "axis": null},
                 "y": {"field": "v", "type": "quantitative", "scale": {"domain": [0, 0.08], "nice": false, "zero": false}, "axis": null},
                 "text": {"field": "base"},
                 "color": {"field": "lam", "type": "nominal", "scale": {"domain": ["1e-8","1e-7","1e-6","5e-6","1e-5"], "range": ["#1c1c8c","#1e9bb8","#bee41c","#1fcc40","#ff4c4c"]}, "legend": null}}},
   {"data": {"name": "hl"}, "transform": [{"filter": "datum.L == '6' && datum.m == 'int' && datum.side == 'above'"}],
    "mark": {"type": "text", "align": "right", "baseline": "alphabetic", "dy": -13, "fontSize": 14},
    "encoding": {"x": {"datum": 14.69, "type": "quantitative", "scale": {"domain": [1, 14.79], "nice": false, "zero": false}, "axis": null},
                 "y": {"field": "v", "type": "quantitative", "scale": {"domain": [0, 0.08], "nice": false, "zero": false}, "axis": null},
                 "text": {"field": "sup"},
                 "color": {"field": "lam", "type": "nominal", "scale": {"domain": ["1e-8","1e-7","1e-6","5e-6","1e-5"], "range": ["#1c1c8c","#1e9bb8","#bee41c","#1fcc40","#ff4c4c"]}, "legend": null}}},
   {"data": {"name": "bins"}, "transform": [{"filter": "datum.L == '6'"}, {"fold": ["x0", "x1"], "as": ["k", "xx"]}],
    "mark": {"type": "line", "color": "black", "strokeWidth": 3.5},
    "encoding": {"x": {"field": "xx", "type": "quantitative", "scale": {"domain": [1, 14.79], "nice": false, "zero": false},
                       "axis": {"orient": "bottom", "zindex": 2, "values": [2,3,4,5,6,7,8,9,10,11,12], "labels": false, "title": null,
                                "tickSize": {"condition": [{"test": "datum.value == 6 || datum.value == 12", "value": -23}, {"test": "datum.value == 3 || datum.value == 9", "value": -12}], "value": -9},
                                "tickWidth": {"condition": {"test": "datum.value == 3 || datum.value == 6 || datum.value == 9 || datum.value == 12", "value": 3}, "value": 1.5}}},
                 "y": {"field": "intd", "type": "quantitative", "scale": {"domain": [0, 0.08], "nice": false, "zero": false},
                       "axis": {"orient": "left", "zindex": 2, "values": [0,0.01,0.02,0.03,0.04,0.05,0.06,0.07], "format": ".2f", "title": null}},
                 "order": [{"field": "i", "type": "quantitative"}, {"field": "xx", "type": "quantitative"}]}},
   {"data": {"values": [{"t": "(d)"}]},
    "mark": {"type": "text", "align": "left", "baseline": "middle", "fontSize": 20, "clip": false},
    "encoding": {"x": {"datum": -1.68, "type": "quantitative", "scale": {"domain": [1, 14.79], "nice": false, "zero": false}, "axis": null},
                 "y": {"datum": 0.076, "type": "quantitative", "scale": {"domain": [0, 0.08], "nice": false, "zero": false}, "axis": null},
                 "text": {"field": "t"}}}
  ]
 },
 {
  "width": 529, "height": 134,
  "layer": [
   {"data": {"name": "bins"}, "transform": [{"filter": "datum.L == '3' && datum.i % 2 == 0"}],
    "mark": {"type": "rect", "color": "#ebebeb", "clip": false},
    "encoding": {"x": {"field": "x0", "type": "quantitative", "scale": {"domain": [0, 14.87], "nice": false, "zero": false}, "axis": null}, "x2": {"field": "x1"},
                 "y": {"datum": 0.0093, "type": "quantitative", "scale": {"domain": [0, 1], "range": [-28, 134], "nice": false, "zero": false}, "axis": null}, "y2": {"datum": 1}}},
   {"data": {"name": "lo"}, "transform": [{"filter": "datum.L == '3'"}],
    "mark": {"type": "rect", "clip": false},
    "encoding": {"x": {"field": "x0", "type": "quantitative", "scale": {"domain": [0, 14.87], "nice": false, "zero": false}, "axis": null}, "x2": {"field": "x1"},
                 "y": {"datum": 0.432, "type": "quantitative", "scale": {"domain": [0, 1], "range": [-28, 134], "nice": false, "zero": false}, "axis": null}, "y2": {"datum": 0.642},
                 "fill": {"field": "lab", "type": "nominal", "scale": {"domain": ["1e-6","1e-5","0.5","1.0"], "range": ["#c5c5c9","#ffffff","#a5a5a9","#ffffff"]}, "legend": null}}},
   {"data": {"name": "rc"}, "transform": [{"filter": "datum.L == '3'"}],
    "mark": {"type": "rect", "clip": false, "stroke": "#a8a8a8", "strokeWidth": 2},
    "encoding": {"x": {"field": "x0", "type": "quantitative", "scale": {"domain": [0, 14.87], "nice": false, "zero": false}, "axis": null}, "x2": {"field": "x1"},
                 "y": {"datum": 0.759, "type": "quantitative", "scale": {"domain": [0, 1], "range": [-28, 134], "nice": false, "zero": false}, "axis": null}, "y2": {"datum": 1},
                 "fill": {"field": "lab", "type": "nominal", "scale": {"domain": ["1e-6","1e-5","0.5","1.0"], "range": ["#c5c5c9","#ffffff","#a5a5a9","#ffffff"]}, "legend": null}}},
   {"data": {"name": "seps"}, "transform": [{"filter": "datum.L == '3' && datum.st == 'solid'"}],
    "mark": {"type": "rule", "color": "#9a9a9a", "strokeWidth": 1.5, "clip": false},
    "encoding": {"x": {"field": "x", "type": "quantitative", "scale": {"domain": [0, 14.87], "nice": false, "zero": false}, "axis": null},
                 "y": {"datum": 0.0093, "type": "quantitative", "scale": {"domain": [0, 1], "range": [-28, 134], "nice": false, "zero": false}, "axis": null}, "y2": {"datum": 1}}},
   {"data": {"name": "seps"}, "transform": [{"filter": "datum.L == '3' && datum.st == 'dashed'"}],
    "mark": {"type": "rule", "color": "#9a9a9a", "strokeWidth": 1.5, "strokeDash": [9, 5], "clip": false},
    "encoding": {"x": {"field": "x", "type": "quantitative", "scale": {"domain": [0, 14.87], "nice": false, "zero": false}, "axis": null},
                 "y": {"datum": 0.0093, "type": "quantitative", "scale": {"domain": [0, 1], "range": [-28, 134], "nice": false, "zero": false}, "axis": null}, "y2": {"datum": 0.642}}},
   {"data": {"name": "lo"}, "transform": [{"filter": "datum.L == '3'"}],
    "mark": {"type": "rule", "color": "#a8a8a8", "strokeWidth": 2, "strokeDash": [7, 4], "clip": false},
    "encoding": {"x": {"field": "x0", "type": "quantitative", "scale": {"domain": [0, 14.87], "nice": false, "zero": false}, "axis": null}, "x2": {"field": "x1"},
                 "y": {"datum": 0.642, "type": "quantitative", "scale": {"domain": [0, 1], "range": [-28, 134], "nice": false, "zero": false}, "axis": null}}},
   {"data": {"name": "lo"}, "transform": [{"filter": "datum.L == '3'"}],
    "mark": {"type": "point", "filled": false, "size": 4, "color": "black", "strokeWidth": 2, "opacity": 1, "clip": false},
    "encoding": {"x": {"field": "xc", "type": "quantitative", "scale": {"domain": [0, 14.87], "nice": false, "zero": false}, "axis": null},
                 "y": {"datum": 0.401, "type": "quantitative", "scale": {"domain": [0, 1], "range": [-28, 134], "nice": false, "zero": false}, "axis": null},
                 "shape": {"field": "span", "type": "nominal", "legend": null, "scale": {"domain": ["2","3","5","6"], "range": [
                    "M-35,-5C-35,-1,-33,0,-27,0L-8,0C-2,0,0,4,0,12C0,4,2,0,8,0L27,0C33,0,35,-1,35,-5",
                    "M-53,-5C-53,-1,-51,0,-45,0L-8,0C-2,0,0,4,0,12C0,4,2,0,8,0L45,0C51,0,53,-1,53,-5",
                    "M-89,-5C-89,-1,-87,0,-81,0L-9,0C-2,0,0,5,0,15C0,5,2,0,9,0L81,0C87,0,89,-1,89,-5",
                    "M-106,-5C-106,-1,-104,0,-98,0L-9,0C-2,0,0,5,0,15C0,5,2,0,9,0L98,0C104,0,106,-1,106,-5"]}}}},
   {"data": {"name": "rc"}, "transform": [{"filter": "datum.L == '3'"}],
    "mark": {"type": "point", "filled": false, "size": 4, "color": "black", "strokeWidth": 2, "opacity": 1, "clip": false},
    "encoding": {"x": {"field": "xc", "type": "quantitative", "scale": {"domain": [0, 14.87], "nice": false, "zero": false}, "axis": null},
                 "y": {"datum": 0.691, "type": "quantitative", "scale": {"domain": [0, 1], "range": [-28, 134], "nice": false, "zero": false}, "axis": null},
                 "shape": {"field": "span", "type": "nominal", "legend": null, "scale": {"domain": ["2","3","5","6"], "range": [
                    "M-35,-5C-35,-1,-33,0,-27,0L-8,0C-2,0,0,4,0,12C0,4,2,0,8,0L27,0C33,0,35,-1,35,-5",
                    "M-53,-5C-53,-1,-51,0,-45,0L-8,0C-2,0,0,4,0,12C0,4,2,0,8,0L45,0C51,0,53,-1,53,-5",
                    "M-89,-5C-89,-1,-87,0,-81,0L-9,0C-2,0,0,5,0,15C0,5,2,0,9,0L81,0C87,0,89,-1,89,-5",
                    "M-106,-5C-106,-1,-104,0,-98,0L-9,0C-2,0,0,5,0,15C0,5,2,0,9,0L98,0C104,0,106,-1,106,-5"]}}}},
   {"data": {"name": "bins"}, "transform": [{"filter": "datum.L == '3'"}],
    "mark": {"type": "text", "angle": 270, "align": "right", "baseline": "middle", "dx": 2.4, "fontSize": 20, "clip": false},
    "encoding": {"x": {"field": "xc", "type": "quantitative", "scale": {"domain": [0, 14.87], "nice": false, "zero": false}, "axis": null},
                 "y": {"datum": 0.198, "type": "quantitative", "scale": {"domain": [0, 1], "range": [-28, 134], "nice": false, "zero": false}, "axis": null},
                 "text": {"value": "10"}}},
   {"data": {"name": "bins"}, "transform": [{"filter": "datum.L == '3'"}],
    "mark": {"type": "text", "angle": 270, "align": "left", "baseline": "middle", "dx": 2.4, "dy": -7, "fontSize": 14, "clip": false},
    "encoding": {"x": {"field": "xc", "type": "quantitative", "scale": {"domain": [0, 14.87], "nice": false, "zero": false}, "axis": null},
                 "y": {"datum": 0.198, "type": "quantitative", "scale": {"domain": [0, 1], "range": [-28, 134], "nice": false, "zero": false}, "axis": null},
                 "text": {"field": "li"}}},
   {"data": {"name": "lo"}, "transform": [{"filter": "datum.L == '3'"}],
    "mark": {"type": "text", "align": "right", "baseline": "middle", "dx": 2.2, "fontSize": 22, "clip": false},
    "encoding": {"x": {"field": "xc", "type": "quantitative", "scale": {"domain": [0, 14.87], "nice": false, "zero": false}, "axis": null},
                 "y": {"datum": 0.56, "type": "quantitative", "scale": {"domain": [0, 1], "range": [-28, 134], "nice": false, "zero": false}, "axis": null},
                 "text": {"value": "10"}}},
   {"data": {"name": "lo"}, "transform": [{"filter": "datum.L == '3'"}],
    "mark": {"type": "text", "align": "left", "baseline": "middle", "dx": 2.2, "dy": -9, "fontSize": 16, "clip": false},
    "encoding": {"x": {"field": "xc", "type": "quantitative", "scale": {"domain": [0, 14.87], "nice": false, "zero": false}, "axis": null},
                 "y": {"datum": 0.56, "type": "quantitative", "scale": {"domain": [0, 1], "range": [-28, 134], "nice": false, "zero": false}, "axis": null},
                 "text": {"field": "sup"}}},
   {"data": {"name": "rc"}, "transform": [{"filter": "datum.L == '3'"}],
    "mark": {"type": "text", "align": "center", "baseline": "middle", "fontSize": 23, "clip": false},
    "encoding": {"x": {"field": "xc", "type": "quantitative", "scale": {"domain": [0, 14.87], "nice": false, "zero": false}, "axis": null},
                 "y": {"datum": 0.877, "type": "quantitative", "scale": {"domain": [0, 1], "range": [-28, 134], "nice": false, "zero": false}, "axis": null},
                 "text": {"field": "lab"}}},
   {"data": {"name": "cl"}, "transform": [{"filter": "datum.L == '3'"}],
    "mark": {"type": "rule", "color": "black", "strokeWidth": 1.2, "clip": false},
    "encoding": {"x": {"field": "x0", "type": "quantitative", "scale": {"domain": [0, 14.87], "nice": false, "zero": false}, "axis": null}, "x2": {"field": "x1"},
                 "y": {"field": "y", "type": "quantitative", "scale": {"domain": [0, 1], "range": [-28, 134], "nice": false, "zero": false}, "axis": null}}},
   {"data": {"name": "rl"}, "transform": [{"filter": "datum.L == '3'"}],
    "mark": {"type": "text", "align": "right", "baseline": "alphabetic", "dy": 4, "font": "DejaVu Serif", "fontStyle": "italic", "fontSize": 22, "clip": false},
    "encoding": {"x": {"field": "x", "type": "quantitative", "scale": {"domain": [0, 14.87], "nice": false, "zero": false}, "axis": null},
                 "y": {"field": "y", "type": "quantitative", "scale": {"domain": [0, 1], "range": [-28, 134], "nice": false, "zero": false}, "axis": null},
                 "text": {"field": "m"}}},
   {"data": {"name": "rl"}, "transform": [{"filter": "datum.L == '3' && datum.s != 'cut'"}],
    "mark": {"type": "text", "align": "left", "baseline": "alphabetic", "dy": 9, "font": "DejaVu Serif", "fontStyle": "italic", "fontSize": 15, "clip": false},
    "encoding": {"x": {"field": "x", "type": "quantitative", "scale": {"domain": [0, 14.87], "nice": false, "zero": false}, "axis": null},
                 "y": {"field": "y", "type": "quantitative", "scale": {"domain": [0, 1], "range": [-28, 134], "nice": false, "zero": false}, "axis": null},
                 "text": {"field": "s"}}},
   {"data": {"name": "rl"}, "transform": [{"filter": "datum.L == '3' && datum.s == 'cut'"}],
    "mark": {"type": "text", "align": "left", "baseline": "alphabetic", "dy": 9, "font": "DejaVu Sans", "fontSize": 13, "clip": false},
    "encoding": {"x": {"field": "x", "type": "quantitative", "scale": {"domain": [0, 14.87], "nice": false, "zero": false}, "axis": null},
                 "y": {"field": "y", "type": "quantitative", "scale": {"domain": [0, 1], "range": [-28, 134], "nice": false, "zero": false}, "axis": null},
                 "text": {"field": "s"}}}
  ]
 },
 {
  "width": 495, "height": 134,
  "layer": [
   {"data": {"name": "bins"}, "transform": [{"filter": "datum.L == '6' && datum.i % 2 == 0"}],
    "mark": {"type": "rect", "color": "#ebebeb", "clip": false},
    "encoding": {"x": {"field": "x0", "type": "quantitative", "scale": {"domain": [1, 14.79], "nice": false, "zero": false}, "axis": null}, "x2": {"field": "x1"},
                 "y": {"datum": 0.0093, "type": "quantitative", "scale": {"domain": [0, 1], "range": [-28, 134], "nice": false, "zero": false}, "axis": null}, "y2": {"datum": 1}}},
   {"data": {"name": "lo"}, "transform": [{"filter": "datum.L == '6'"}],
    "mark": {"type": "rect", "clip": false},
    "encoding": {"x": {"field": "x0", "type": "quantitative", "scale": {"domain": [1, 14.79], "nice": false, "zero": false}, "axis": null}, "x2": {"field": "x1"},
                 "y": {"datum": 0.432, "type": "quantitative", "scale": {"domain": [0, 1], "range": [-28, 134], "nice": false, "zero": false}, "axis": null}, "y2": {"datum": 0.642},
                 "fill": {"field": "lab", "type": "nominal", "scale": {"domain": ["1e-6","1e-5","0.5","1.0"], "range": ["#c5c5c9","#ffffff","#a5a5a9","#ffffff"]}, "legend": null}}},
   {"data": {"name": "rc"}, "transform": [{"filter": "datum.L == '6'"}],
    "mark": {"type": "rect", "clip": false, "stroke": "#a8a8a8", "strokeWidth": 2},
    "encoding": {"x": {"field": "x0", "type": "quantitative", "scale": {"domain": [1, 14.79], "nice": false, "zero": false}, "axis": null}, "x2": {"field": "x1"},
                 "y": {"datum": 0.759, "type": "quantitative", "scale": {"domain": [0, 1], "range": [-28, 134], "nice": false, "zero": false}, "axis": null}, "y2": {"datum": 1},
                 "fill": {"field": "lab", "type": "nominal", "scale": {"domain": ["1e-6","1e-5","0.5","1.0"], "range": ["#c5c5c9","#ffffff","#a5a5a9","#ffffff"]}, "legend": null}}},
   {"data": {"name": "seps"}, "transform": [{"filter": "datum.L == '6' && datum.st == 'solid'"}],
    "mark": {"type": "rule", "color": "#9a9a9a", "strokeWidth": 1.5, "clip": false},
    "encoding": {"x": {"field": "x", "type": "quantitative", "scale": {"domain": [1, 14.79], "nice": false, "zero": false}, "axis": null},
                 "y": {"datum": 0.0093, "type": "quantitative", "scale": {"domain": [0, 1], "range": [-28, 134], "nice": false, "zero": false}, "axis": null}, "y2": {"datum": 1}}},
   {"data": {"name": "seps"}, "transform": [{"filter": "datum.L == '6' && datum.st == 'dashed'"}],
    "mark": {"type": "rule", "color": "#9a9a9a", "strokeWidth": 1.5, "strokeDash": [9, 5], "clip": false},
    "encoding": {"x": {"field": "x", "type": "quantitative", "scale": {"domain": [1, 14.79], "nice": false, "zero": false}, "axis": null},
                 "y": {"datum": 0.0093, "type": "quantitative", "scale": {"domain": [0, 1], "range": [-28, 134], "nice": false, "zero": false}, "axis": null}, "y2": {"datum": 0.642}}},
   {"data": {"name": "lo"}, "transform": [{"filter": "datum.L == '6'"}],
    "mark": {"type": "rule", "color": "#a8a8a8", "strokeWidth": 2, "strokeDash": [7, 4], "clip": false},
    "encoding": {"x": {"field": "x0", "type": "quantitative", "scale": {"domain": [1, 14.79], "nice": false, "zero": false}, "axis": null}, "x2": {"field": "x1"},
                 "y": {"datum": 0.642, "type": "quantitative", "scale": {"domain": [0, 1], "range": [-28, 134], "nice": false, "zero": false}, "axis": null}}},
   {"data": {"name": "lo"}, "transform": [{"filter": "datum.L == '6'"}],
    "mark": {"type": "point", "filled": false, "size": 4, "color": "black", "strokeWidth": 2, "opacity": 1, "clip": false},
    "encoding": {"x": {"field": "xc", "type": "quantitative", "scale": {"domain": [1, 14.79], "nice": false, "zero": false}, "axis": null},
                 "y": {"datum": 0.401, "type": "quantitative", "scale": {"domain": [0, 1], "range": [-28, 134], "nice": false, "zero": false}, "axis": null},
                 "shape": {"field": "span", "type": "nominal", "legend": null, "scale": {"domain": ["2","3","5","6"], "range": [
                    "M-35,-5C-35,-1,-33,0,-27,0L-8,0C-2,0,0,4,0,12C0,4,2,0,8,0L27,0C33,0,35,-1,35,-5",
                    "M-53,-5C-53,-1,-51,0,-45,0L-8,0C-2,0,0,4,0,12C0,4,2,0,8,0L45,0C51,0,53,-1,53,-5",
                    "M-89,-5C-89,-1,-87,0,-81,0L-9,0C-2,0,0,5,0,15C0,5,2,0,9,0L81,0C87,0,89,-1,89,-5",
                    "M-106,-5C-106,-1,-104,0,-98,0L-9,0C-2,0,0,5,0,15C0,5,2,0,9,0L98,0C104,0,106,-1,106,-5"]}}}},
   {"data": {"name": "rc"}, "transform": [{"filter": "datum.L == '6'"}],
    "mark": {"type": "point", "filled": false, "size": 4, "color": "black", "strokeWidth": 2, "opacity": 1, "clip": false},
    "encoding": {"x": {"field": "xc", "type": "quantitative", "scale": {"domain": [1, 14.79], "nice": false, "zero": false}, "axis": null},
                 "y": {"datum": 0.691, "type": "quantitative", "scale": {"domain": [0, 1], "range": [-28, 134], "nice": false, "zero": false}, "axis": null},
                 "shape": {"field": "span", "type": "nominal", "legend": null, "scale": {"domain": ["2","3","5","6"], "range": [
                    "M-35,-5C-35,-1,-33,0,-27,0L-8,0C-2,0,0,4,0,12C0,4,2,0,8,0L27,0C33,0,35,-1,35,-5",
                    "M-53,-5C-53,-1,-51,0,-45,0L-8,0C-2,0,0,4,0,12C0,4,2,0,8,0L45,0C51,0,53,-1,53,-5",
                    "M-89,-5C-89,-1,-87,0,-81,0L-9,0C-2,0,0,5,0,15C0,5,2,0,9,0L81,0C87,0,89,-1,89,-5",
                    "M-106,-5C-106,-1,-104,0,-98,0L-9,0C-2,0,0,5,0,15C0,5,2,0,9,0L98,0C104,0,106,-1,106,-5"]}}}},
   {"data": {"name": "bins"}, "transform": [{"filter": "datum.L == '6'"}],
    "mark": {"type": "text", "angle": 270, "align": "right", "baseline": "middle", "dx": 2.4, "fontSize": 20, "clip": false},
    "encoding": {"x": {"field": "xc", "type": "quantitative", "scale": {"domain": [1, 14.79], "nice": false, "zero": false}, "axis": null},
                 "y": {"datum": 0.198, "type": "quantitative", "scale": {"domain": [0, 1], "range": [-28, 134], "nice": false, "zero": false}, "axis": null},
                 "text": {"value": "10"}}},
   {"data": {"name": "bins"}, "transform": [{"filter": "datum.L == '6'"}],
    "mark": {"type": "text", "angle": 270, "align": "left", "baseline": "middle", "dx": 2.4, "dy": -7, "fontSize": 14, "clip": false},
    "encoding": {"x": {"field": "xc", "type": "quantitative", "scale": {"domain": [1, 14.79], "nice": false, "zero": false}, "axis": null},
                 "y": {"datum": 0.198, "type": "quantitative", "scale": {"domain": [0, 1], "range": [-28, 134], "nice": false, "zero": false}, "axis": null},
                 "text": {"field": "li"}}},
   {"data": {"name": "lo"}, "transform": [{"filter": "datum.L == '6'"}],
    "mark": {"type": "text", "align": "right", "baseline": "middle", "dx": 2.2, "fontSize": 22, "clip": false},
    "encoding": {"x": {"field": "xc", "type": "quantitative", "scale": {"domain": [1, 14.79], "nice": false, "zero": false}, "axis": null},
                 "y": {"datum": 0.56, "type": "quantitative", "scale": {"domain": [0, 1], "range": [-28, 134], "nice": false, "zero": false}, "axis": null},
                 "text": {"value": "10"}}},
   {"data": {"name": "lo"}, "transform": [{"filter": "datum.L == '6'"}],
    "mark": {"type": "text", "align": "left", "baseline": "middle", "dx": 2.2, "dy": -9, "fontSize": 16, "clip": false},
    "encoding": {"x": {"field": "xc", "type": "quantitative", "scale": {"domain": [1, 14.79], "nice": false, "zero": false}, "axis": null},
                 "y": {"datum": 0.56, "type": "quantitative", "scale": {"domain": [0, 1], "range": [-28, 134], "nice": false, "zero": false}, "axis": null},
                 "text": {"field": "sup"}}},
   {"data": {"name": "rc"}, "transform": [{"filter": "datum.L == '6'"}],
    "mark": {"type": "text", "align": "center", "baseline": "middle", "fontSize": 23, "clip": false},
    "encoding": {"x": {"field": "xc", "type": "quantitative", "scale": {"domain": [1, 14.79], "nice": false, "zero": false}, "axis": null},
                 "y": {"datum": 0.877, "type": "quantitative", "scale": {"domain": [0, 1], "range": [-28, 134], "nice": false, "zero": false}, "axis": null},
                 "text": {"field": "lab"}}},
   {"data": {"name": "cl"}, "transform": [{"filter": "datum.L == '6'"}],
    "mark": {"type": "rule", "color": "black", "strokeWidth": 1.2, "clip": false},
    "encoding": {"x": {"field": "x0", "type": "quantitative", "scale": {"domain": [1, 14.79], "nice": false, "zero": false}, "axis": null}, "x2": {"field": "x1"},
                 "y": {"field": "y", "type": "quantitative", "scale": {"domain": [0, 1], "range": [-28, 134], "nice": false, "zero": false}, "axis": null}}},
   {"data": {"name": "rl"}, "transform": [{"filter": "datum.L == '6'"}],
    "mark": {"type": "text", "align": "right", "baseline": "alphabetic", "dy": 4, "font": "DejaVu Serif", "fontStyle": "italic", "fontSize": 22, "clip": false},
    "encoding": {"x": {"field": "x", "type": "quantitative", "scale": {"domain": [1, 14.79], "nice": false, "zero": false}, "axis": null},
                 "y": {"field": "y", "type": "quantitative", "scale": {"domain": [0, 1], "range": [-28, 134], "nice": false, "zero": false}, "axis": null},
                 "text": {"field": "m"}}},
   {"data": {"name": "rl"}, "transform": [{"filter": "datum.L == '6' && datum.s != 'cut'"}],
    "mark": {"type": "text", "align": "left", "baseline": "alphabetic", "dy": 9, "font": "DejaVu Serif", "fontStyle": "italic", "fontSize": 15, "clip": false},
    "encoding": {"x": {"field": "x", "type": "quantitative", "scale": {"domain": [1, 14.79], "nice": false, "zero": false}, "axis": null},
                 "y": {"field": "y", "type": "quantitative", "scale": {"domain": [0, 1], "range": [-28, 134], "nice": false, "zero": false}, "axis": null},
                 "text": {"field": "s"}}},
   {"data": {"name": "rl"}, "transform": [{"filter": "datum.L == '6' && datum.s == 'cut'"}],
    "mark": {"type": "text", "align": "left", "baseline": "alphabetic", "dy": 9, "font": "DejaVu Sans", "fontSize": 13, "clip": false},
    "encoding": {"x": {"field": "x", "type": "quantitative", "scale": {"domain": [1, 14.79], "nice": false, "zero": false}, "axis": null},
                 "y": {"field": "y", "type": "quantitative", "scale": {"domain": [0, 1], "range": [-28, 134], "nice": false, "zero": false}, "axis": null},
                 "text": {"field": "s"}}}
  ]
 }
]
}
